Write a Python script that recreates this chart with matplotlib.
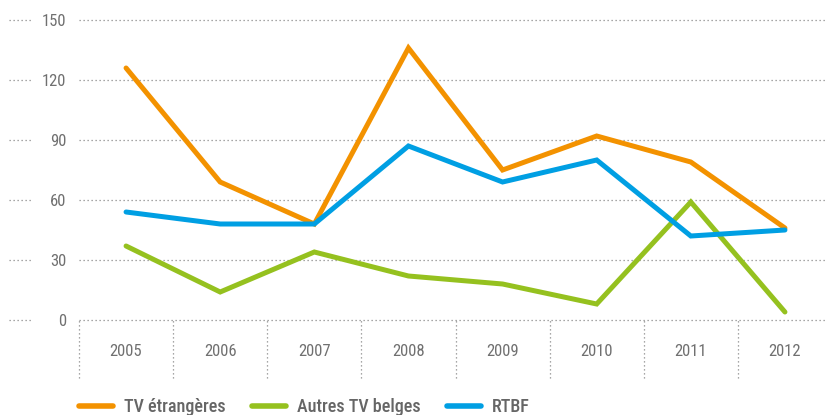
import matplotlib
matplotlib.use("Agg")
import matplotlib.pyplot as plt

years = ["2005", "2006", "2007", "2008", "2009", "2010", "2011", "2012"]
tv_etrangeres = [126, 69, 48, 136, 75, 92, 79, 46]
autres_tv_belges = [37, 14, 34, 22, 18, 8, 59, 4]
rtbf = [54, 48, 48, 87, 69, 80, 42, 45]
y_ticks = [0, 30, 60, 90, 120, 150]

plt.rcParams['font.family'] = ['Roboto Condensed', 'Liberation Sans Narrow', 'DejaVu Sans']

txt = "#707070"
grid_c = "#8a8a8a"

fig = plt.figure(figsize=(8.25, 4.15), dpi=100)
W, H = 825, 415
left_px, right_px = 79, 832
bot_px, top_px = 320, 20
ax = fig.add_axes([left_px / W, (H - bot_px) / H, (right_px - left_px) / W, (bot_px - top_px) / H])

x = list(range(len(years)))
series = [("TV étrangères", tv_etrangeres, "#F39200"),
          ("Autres TV belges", autres_tv_belges, "#95C11F"),
          ("RTBF", rtbf, "#009FE3")]
for label, vals, col in series:
    ax.plot(x, vals, color=col, lw=3.6, label=label, clip_on=False,
            solid_joinstyle='miter', solid_capstyle='round', zorder=3)

ax.set_xlim(-0.5, len(years) - 0.5)
ax.set_ylim(0, 150)
for s in ax.spines.values():
    s.set_visible(False)

ax.set_yticks(y_ticks)
ax.set_yticklabels([str(v) for v in y_ticks])
ax.set_xticks(x)
ax.set_xticklabels(years)
ax.tick_params(axis='both', length=0, colors=txt, labelsize=12)
ax.tick_params(axis='y', pad=9)
ax.tick_params(axis='x', pad=17)

# horizontal dotted grid
for v in y_ticks:
    ax.axhline(v, color=grid_c, lw=0.9, ls=(0, (1, 2.2)), zorder=1, clip_on=False)
    ax.hlines(v, -0.093, -0.061, transform=ax.get_yaxis_transform(), color=grid_c,
              lw=0.9, ls=(0, (1, 2.2)), clip_on=False)

# vertical separators
for i in range(len(years)):
    ax.vlines(i - 0.5, -0.193, 0, transform=ax.get_xaxis_transform(), color=grid_c,
              lw=0.9, ls=(0, (1, 2.2)), clip_on=False)

leg = fig.legend(loc='center left', bbox_to_anchor=(79 / W, (H - 407) / H), ncol=3,
                 frameon=False, prop={'size': 13, 'weight': 'medium'},
                 handlelength=1.88, handletextpad=0.62,
                 columnspacing=1.45, borderpad=0, borderaxespad=0)
for t in leg.get_texts():
    t.set_color("#666666")
for h in leg.get_lines():
    h.set_linewidth(4)
    h.set_solid_capstyle('round')

fig.savefig("out.png", dpi=100)
